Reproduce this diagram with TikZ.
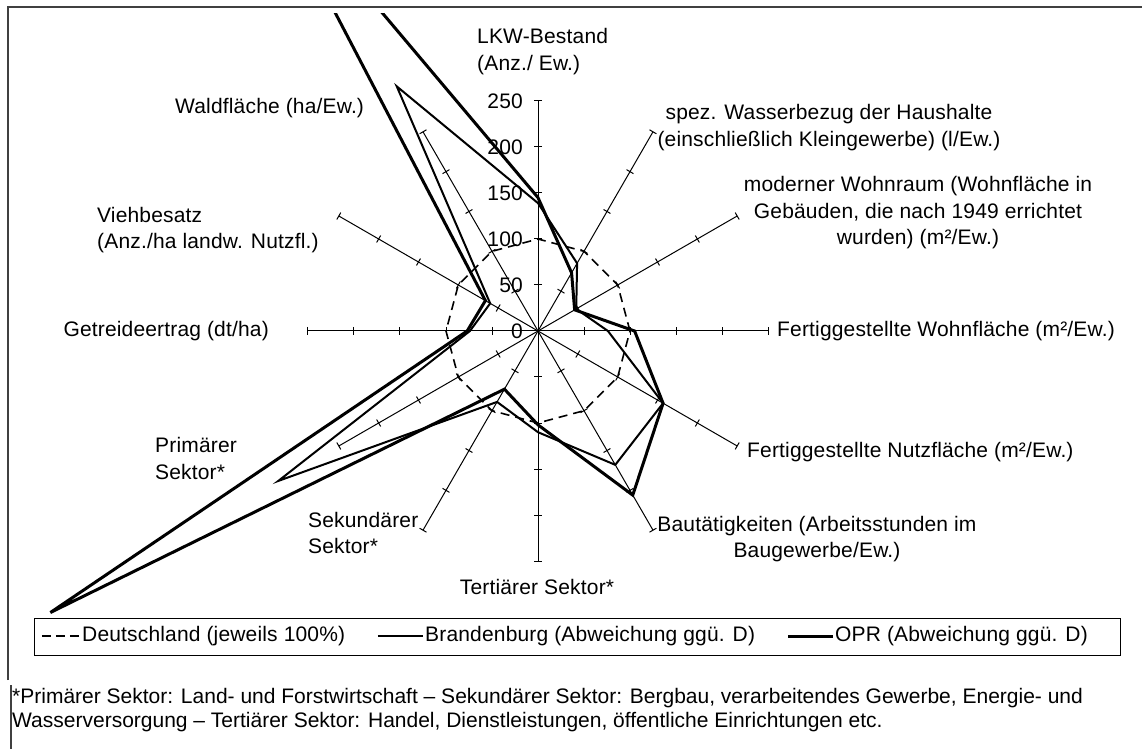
\documentclass[tikz,border=0pt]{standalone}
\usepackage{fontspec}
\setmainfont{Liberation Sans}
\newfontfamily\lblfont{Liberation Sans}[LetterSpace=0.8]
\begin{document}
\begin{tikzpicture}[x=1pt,y=1pt,
  lbl/.style={inner sep=0pt, font=\lblfont\fontsize{21}{26.5}\selectfont},
  leg/.style={inner sep=0pt, font=\lblfont\fontsize{21}{24}\selectfont},
  axisline/.style={line width=1pt},
  germ/.style={line width=1.6pt, dash pattern=on 9pt off 6pt},
  brand/.style={line width=2pt},
  opr/.style={line width=3pt},
  frameline/.style={line width=1.5pt, black!75}
]
\useasboundingbox (-538,-418) rectangle (604,331);
% frame
\draw[frameline] (-530,-349) -- (-530,324) -- (604,324);
\draw[frameline] (-527,-354) -- (-527,-418);
% axes with ticks
\foreach \a in {0,30,...,330} {
  \coordinate (ax\a) at (\a:230);
  \begin{scope}[rotate=\a]
    \draw[axisline] (0,0) -- (230,0);
    \foreach \k in {1,...,5} \draw[axisline] (46*\k,-4) -- (46*\k,4);
  \end{scope}
}
% scale numbers
\foreach \v in {0,50,...,250} \node[lbl, anchor=east] (n\v) at (-15, 0.92*\v) {\v};
% Germany 100%
\foreach \a in {0,30,...,330} \coordinate (d\a) at (\a:92);
\draw[germ] (d0) -- (d30) -- (d60) -- (d90) -- (d120) -- (d150) -- (d180) -- (d210) -- (d240) -- (d270) -- (d300) -- (d330) -- cycle;
% data points
\foreach \n/\a/\v in {1/90/139, 2/60/85, 3/30/48, 4/0/76, 5/-30/157, 6/-60/168, 7/-90/110, 8/-120/89, 9/-150/326, 10/180/74, 11/150/60, 12/120/307}
  \coordinate (b\n) at (\a:{\v*0.92});
\foreach \n/\a/\v in {1/90/145, 2/60/73, 3/30/46, 4/0/105, 5/-30/157, 6/-60/206, 7/-90/102, 8/-120/73, 9/-150/612, 10/180/77, 11/150/66, 12/121/589}
  \coordinate (o\n) at (\a:{\v*0.92});
\begin{scope}
  \clip (-530,-418) rectangle (604,317);
  \draw[brand] (b1) -- (b2) -- (b3) -- (b4) -- (b5) -- (b6) -- (b7) -- (b8) -- (b9) -- (b10) -- (b11) -- (b12) -- cycle;
  \draw[opr] (o1) -- (o2) -- (o3) -- (o4) -- (o5) -- (o6) -- (o7) -- (o8) -- (o9) -- (o10) -- (o11) -- (o12) -- cycle;
\end{scope}
% axis labels
\node[lbl, anchor=west, align=left] (lkw) at (-61,279.5) {LKW-Bestand\\(Anz./ Ew.)};
\node[lbl, align=center] (wasser) at (291,203.5) {spez. Wasserbezug der Haushalte\\(einschließlich Kleingewerbe) (l/Ew.)};
\node[lbl, align=center] (modern) at (380,118) {moderner Wohnraum (Wohnfläche in\\Gebäuden, die nach 1949 errichtet\\wurden) (m²/Ew.)};
\node[lbl, anchor=west] (wohn) at (239,0) {Fertiggestellte Wohnfläche (m²/Ew.)};
\node[lbl, anchor=west] (nutz) at (209,-121) {Fertiggestellte Nutzfläche (m²/Ew.)};
\node[lbl, align=center] (bau) at (279,-208) {Bautätigkeiten (Arbeitsstunden im\\Baugewerbe/Ew.)};
\node[lbl] (tert) at (-1,-256) {Tertiärer Sektor*};
\node[lbl, anchor=west, align=left] (sek) at (-230,-202) {Sekundärer\\Sektor*};
\node[lbl, anchor=west, align=left] (prim) at (-383,-127.5) {Primärer\\Sektor*};
\node[lbl, anchor=east] (getr) at (-269,0) {Getreideertrag (dt/ha)};
\node[lbl, anchor=west, align=left] (vieh) at (-441,101) {Viehbesatz\\(Anz./ha landw. Nutzfl.)};
\node[lbl, anchor=west] (wald) at (-363,223) {Waldfläche (ha/Ew.)};
% legend
\node[draw, line width=1pt, minimum width=1085pt, minimum height=37pt, inner sep=0pt] (legend) at (39.5,-305.5) {};
\coordinate (l1a) at (-496,-305); \coordinate (l1b) at (-458,-305);
\coordinate (l2a) at (-160,-305); \coordinate (l2b) at (-115,-305);
\coordinate (l3a) at (250,-305);  \coordinate (l3b) at (295,-305);
\draw[germ, dash pattern=on 9pt off 5pt] (l1a) -- (l1b);
\draw[brand] (l2a) -- (l2b);
\draw[opr] (l3a) -- (l3b);
\node[leg, anchor=west] (lt1) at (-456,-305) {Deutschland (jeweils 100\%)};
\node[leg, anchor=west] (lt2) at (-113,-305) {Brandenburg (Abweichung ggü. D)};
\node[leg, anchor=west] (lt3) at (297,-305) {OPR (Abweichung ggü. D)};
% footnote
\node[anchor=west, align=left, inner sep=0pt, font=\fontsize{21}{24}\selectfont] (foot) at (-526,-379) {*Primärer Sektor: Land- und Forstwirtschaft – Sekundärer Sektor: Bergbau, verarbeitendes Gewerbe, Energie- und\\Wasserversorgung – Tertiärer Sektor: Handel, Dienstleistungen, öffentliche Einrichtungen etc.};
\end{tikzpicture}
\end{document}
